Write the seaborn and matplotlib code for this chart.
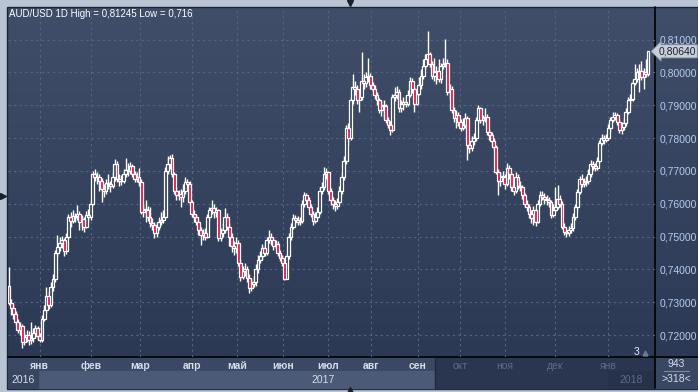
import matplotlib
matplotlib.use("Agg")
import matplotlib.pyplot as plt
import seaborn as sns
import numpy as np
import pandas as pd
from matplotlib.patches import Rectangle

# AUD/USD 1D, dic 2016 - ene 2018, precios en pips (x 1e-4)
first_open = 7350
closes = [
    7298, 7282, 7265, 7240, 7215, 7228, 7180, 7195, 7200, 7185,
    7190, 7205, 7222, 7196, 7186, 7250, 7275, 7320, 7290, 7345,
    7370, 7450, 7468, 7480, 7488, 7455, 7500, 7560, 7548, 7562,
    7558, 7570, 7545, 7552, 7530, 7565, 7560, 7600, 7690, 7682,
    7680, 7670, 7645, 7640, 7662, 7660, 7655, 7680, 7720, 7675,
    7668, 7670, 7690, 7702, 7700, 7715, 7690, 7675, 7680, 7665,
    7575, 7585, 7580, 7560, 7540, 7535, 7510, 7530, 7545, 7550,
    7560, 7700, 7720, 7740, 7690, 7640, 7625, 7630, 7620, 7640,
    7665, 7660, 7605, 7570, 7560, 7545, 7520, 7505, 7510, 7500,
    7560, 7580, 7588, 7575, 7580, 7495, 7510, 7520, 7560, 7528,
    7500, 7470, 7465, 7480, 7420, 7378, 7395, 7400, 7375, 7342,
    7355, 7360, 7400, 7428, 7440, 7465, 7450, 7490, 7500, 7488,
    7470, 7478, 7450, 7435, 7420, 7372, 7440, 7500, 7530, 7555,
    7550, 7545, 7548, 7600, 7625, 7610, 7590, 7570, 7548, 7560,
    7575, 7640, 7650, 7690, 7695, 7640, 7610, 7600, 7592, 7605,
    7640, 7680, 7730, 7830, 7800, 7915, 7955, 7950, 7915, 7925,
    7975, 7967, 7985, 7990, 7960, 7950, 7930, 7915, 7885, 7900,
    7898, 7855, 7840, 7825, 7925, 7930, 7940, 7890, 7905, 7910,
    7905, 7930, 7975, 7950, 7905, 7935, 7960, 7990, 8020, 8040,
    8055, 8025, 7990, 8000, 8005, 7980, 8020, 8025, 8030, 7940,
    7950, 7885, 7860, 7870, 7850, 7830, 7840, 7860, 7780, 7770,
    7790, 7800, 7855, 7890, 7855, 7860, 7865, 7818, 7810, 7790,
    7773, 7697, 7670, 7685, 7680, 7660, 7710, 7690, 7650, 7640,
    7680, 7655, 7650, 7625, 7600, 7590, 7570, 7555, 7580, 7545,
    7600, 7625, 7620, 7615, 7610, 7605, 7565, 7580, 7590, 7615,
    7600, 7530, 7515, 7510, 7520, 7525, 7560, 7590, 7635, 7675,
    7660, 7665, 7670, 7690, 7720, 7715, 7710, 7730, 7785, 7800,
    7795, 7800, 7830, 7855, 7865, 7870, 7850, 7825, 7835, 7845,
    7880, 7915, 7920, 7967, 7980, 8000, 8005, 7985, 8000, 7995,
    8064,
]
highs = [
    7407, 7310, 7295, 7272, 7250, 7240, 7232, 7210, 7215, 7212,
    7240, 7222, 7230, 7228, 7205, 7262, 7290, 7345, 7335, 7360,
    7385, 7460, 7505, 7500, 7502, 7495, 7512, 7570, 7575, 7580,
    7572, 7595, 7578, 7565, 7560, 7578, 7585, 7612, 7700, 7705,
    7695, 7690, 7678, 7660, 7675, 7690, 7670, 7695, 7735, 7730,
    7690, 7688, 7705, 7740, 7725, 7728, 7722, 7700, 7695, 7710,
    7675, 7600, 7610, 7592, 7590, 7555, 7545, 7540, 7560, 7575,
    7580, 7712, 7745, 7748, 7750, 7695, 7650, 7642, 7645, 7660,
    7680, 7675, 7668, 7612, 7580, 7570, 7552, 7530, 7522, 7525,
    7570, 7590, 7610, 7598, 7590, 7585, 7525, 7540, 7588, 7572,
    7540, 7510, 7485, 7500, 7488, 7430, 7410, 7418, 7410, 7385,
    7370, 7380, 7415, 7445, 7455, 7478, 7480, 7500, 7520, 7510,
    7495, 7490, 7485, 7460, 7445, 7428, 7450, 7510, 7542, 7568,
    7565, 7562, 7560, 7612, 7635, 7632, 7620, 7598, 7578, 7575,
    7590, 7652, 7665, 7712, 7708, 7700, 7648, 7620, 7612, 7618,
    7655, 7695, 7745, 7840, 7845, 7925, 7995, 7975, 7960, 7950,
    8062, 7995, 8000, 8045, 7998, 7972, 7962, 7940, 7922, 7912,
    7915, 7905, 7865, 7852, 7935, 7955, 7958, 7948, 7915, 7925,
    7930, 7945, 7985, 7982, 7958, 7950, 7985, 8010, 8040, 8055,
    8125, 8062, 8035, 8045, 8020, 8040, 8030, 8045, 8103, 8040,
    7965, 7958, 7895, 7885, 7880, 7858, 7860, 7875, 7868, 7795,
    7805, 7815, 7865, 7900, 7895, 7870, 7890, 7872, 7828, 7818,
    7800, 7780, 7705, 7695, 7700, 7690, 7725, 7718, 7698, 7660,
    7698, 7690, 7670, 7658, 7632, 7612, 7598, 7580, 7592, 7588,
    7612, 7638, 7640, 7632, 7625, 7620, 7612, 7598, 7652, 7657,
    7625, 7608, 7540, 7525, 7532, 7540, 7572, 7600, 7645, 7685,
    7690, 7678, 7685, 7705, 7732, 7730, 7725, 7742, 7795, 7812,
    7810, 7812, 7842, 7865, 7878, 7880, 7875, 7858, 7848, 7860,
    7892, 7925, 7935, 7978, 8025, 8012, 8025, 8035, 8012, 8040,
    8066,
]
lows = [
    7290, 7262, 7250, 7230, 7205, 7200, 7160, 7170, 7178, 7170,
    7172, 7180, 7195, 7185, 7178, 7180, 7242, 7268, 7280, 7285,
    7335, 7362, 7440, 7455, 7465, 7440, 7448, 7495, 7530, 7540,
    7545, 7550, 7520, 7520, 7515, 7525, 7545, 7550, 7595, 7668,
    7660, 7640, 7605, 7620, 7630, 7645, 7635, 7648, 7670, 7665,
    7655, 7658, 7662, 7680, 7685, 7690, 7680, 7665, 7665, 7655,
    7568, 7560, 7545, 7548, 7528, 7520, 7495, 7500, 7520, 7535,
    7540, 7555, 7690, 7705, 7680, 7630, 7610, 7610, 7590, 7605,
    7630, 7645, 7598, 7560, 7545, 7535, 7505, 7475, 7490, 7488,
    7495, 7550, 7570, 7555, 7560, 7485, 7485, 7500, 7512, 7520,
    7470, 7452, 7445, 7450, 7410, 7365, 7370, 7380, 7360, 7327,
    7335, 7345, 7350, 7390, 7420, 7430, 7440, 7445, 7480, 7475,
    7458, 7462, 7440, 7425, 7410, 7368, 7370, 7432, 7490, 7522,
    7538, 7535, 7535, 7540, 7590, 7598, 7580, 7560, 7535, 7540,
    7552, 7568, 7630, 7642, 7675, 7630, 7595, 7585, 7578, 7585,
    7598, 7630, 7672, 7722, 7780, 7795, 7905, 7930, 7905, 7880,
    7915, 7950, 7955, 7970, 7950, 7940, 7920, 7900, 7875, 7868,
    7860, 7845, 7830, 7808, 7818, 7912, 7920, 7878, 7880, 7885,
    7895, 7898, 7925, 7938, 7880, 7900, 7930, 7950, 7980, 8010,
    8030, 8015, 7980, 7975, 7965, 7970, 7968, 8010, 8015, 7932,
    7920, 7875, 7850, 7830, 7838, 7820, 7825, 7830, 7733, 7755,
    7760, 7778, 7792, 7845, 7845, 7840, 7850, 7810, 7795, 7780,
    7765, 7690, 7625, 7655, 7665, 7645, 7655, 7675, 7640, 7625,
    7632, 7645, 7640, 7615, 7590, 7578, 7555, 7540, 7535, 7532,
    7540, 7592, 7610, 7600, 7595, 7590, 7555, 7558, 7575, 7585,
    7590, 7522, 7505, 7498, 7502, 7510, 7518, 7550, 7582, 7628,
    7650, 7650, 7655, 7660, 7682, 7702, 7700, 7702, 7725, 7778,
    7782, 7788, 7795, 7822, 7848, 7855, 7840, 7815, 7812, 7825,
    7838, 7872, 7905, 7912, 7960, 7970, 7940, 7978, 7950, 7985,
    7990,
]

month_pos = [14, 37.2, 59.5, 83.1, 103.5, 124.4, 144.8, 164.3, 185.6,
             204.7, 225.1, 247.8, 271.9]
month_labels = ["янв", "фев", "мар", "апр", "май", "июн", "июл", "авг", "сен",
                "окт", "ноя", "дек", "янв"]
price_ticks = [0.72, 0.73, 0.74, 0.75, 0.76, 0.77, 0.78, 0.79, 0.80, 0.81]
last_price = 0.80640

df = pd.DataFrame({"close": closes, "high": highs, "low": lows}) / 1e4
df["open"] = df["close"].shift(1).fillna(first_open / 1e4)
df["x"] = np.arange(len(df))

sns.set_theme(style="dark")
plt.rcParams["font.family"] = ["Liberation Sans", "DejaVu Sans"]

W, H = 698, 392
fig = plt.figure(figsize=(W / 100, H / 100), dpi=100)
fig.patch.set_facecolor("#b9c5d5")

# fondo en coordenadas de pixel
bg = fig.add_axes([0, 0, 1, 1], zorder=0)
bg.set_xlim(0, W)
bg.set_ylim(H, 0)
bg.axis("off")

grad = np.linspace(0, 1, 256).reshape(-1, 1)
top_c = np.array([0x40, 0x4e, 0x69]) / 255
bot_c = np.array([0x2b, 0x39, 0x55]) / 255
img = top_c[None, None, :] * (1 - grad[:, :, None]) + bot_c[None, None, :] * grad[:, :, None]
bg.imshow(img, extent=(8, W, 357, 8), aspect="auto", zorder=0)

bg.add_patch(Rectangle((7, 7), W - 7, 382, fill=False, ec="#1c2436", lw=1, zorder=1))
# franja inferior
bg.add_patch(Rectangle((8, 357), 427, 14, color="#3b4864", zorder=1))
bg.add_patch(Rectangle((38, 371), 397, 17, color="#4b5a77", zorder=1))
bg.add_patch(Rectangle((8, 371), 30, 17, color="#38455f", zorder=1))
bg.add_patch(Rectangle((435, 357), 220, 31, color="#2a3550", zorder=1))
bg.add_patch(Rectangle((608, 371), 47, 17, color="#26314a", zorder=1))
bg.add_patch(Rectangle((655, 357), W - 655, 31, color="#3a4763", zorder=1))
bg.plot([655, 655], [7, 388], color="black", lw=1.2, zorder=2)
bg.plot([8, W], [357, 357], color="black", lw=1.2, zorder=2)
bg.plot([435, 435], [357, 388], color="#1e2738", lw=0.8, zorder=2)

bg.text(23, 380, "2016", color="#d5dde9", fontsize=7.5, ha="center", va="center", zorder=3)
bg.text(323, 380, "2017", color="#d5dde9", fontsize=7.5, ha="center", va="center", zorder=3)
bg.text(631, 380, "2018", color="#5d6b84", fontsize=7.5, ha="center", va="center", zorder=3)
bg.text(676, 364, "943", color="#d5dde9", fontsize=7.5, ha="center", va="center", zorder=3)
bg.plot([664, 689], [371, 371], color="#7d8aa0", lw=0.8, zorder=3)
bg.text(676, 379, ">318<", color="#d5dde9", fontsize=7.5, ha="center", va="center", zorder=3)
bg.text(637, 352, "3", color="#e8edf4", fontsize=7.5, ha="center", va="center", zorder=3)
bg.plot([645], [353], marker="^", ms=3.5, color="#6d7a90", zorder=3)
bg.plot([350], [2.5], marker="v", ms=5, color="#1a1f2a", zorder=3, clip_on=False)
bg.plot([350], [389.5], marker="^", ms=5, color="#1a1f2a", zorder=3, clip_on=False)
bg.plot([3], [196], marker=">", ms=5, color="#1a1f2a", zorder=3, clip_on=False)

# grafico de velas
ax = fig.add_axes([8 / W, 1 - 357 / H, 647 / W, 349 / H], zorder=1)
ax.patch.set_alpha(0)
for s in ax.spines.values():
    s.set_visible(False)

ax.set_xlim(-0.45, 293.2)
ax.set_ylim(0.7133, 0.8196)

for p in price_ticks:
    ax.axhline(p, color="#56657f", lw=0.8, ls=(0, (2, 3)), zorder=1)
for m in month_pos:
    ax.axvline(m, color="#56657f", lw=0.8, ls=(0, (2, 3)), zorder=1)

up = df[df["close"] >= df["open"]]
dn = df[df["close"] < df["open"]]
min_h = 0.0002
ax.vlines(df["x"], df["low"], df["high"], color="white", lw=1.0, zorder=3)
ax.bar(up["x"], np.maximum(up["close"] - up["open"], min_h), bottom=up["open"],
       width=1.3, color="#34425e", edgecolor="white", lw=0.9, zorder=4)
ax.bar(dn["x"], np.maximum(dn["open"] - dn["close"], min_h), bottom=dn["close"],
       width=1.3, color="#e8103c", edgecolor="white", lw=0.9, zorder=4)

ax.yaxis.tick_right()
ax.set_yticks(price_ticks)
ax.set_yticklabels([f"{p:.5f}".replace(".", ",") for p in price_ticks])
ax.tick_params(axis="y", length=0, pad=3, labelsize=7.5, labelcolor="#b4ccee")

ax.set_xticks(month_pos)
ax.set_xticklabels(month_labels)
ax.tick_params(axis="x", length=0, pad=3, labelsize=7.5)
for i, lab in enumerate(ax.get_xticklabels()):
    lab.set_color("#d5dde9" if month_pos[i] < 195 else "#5d6b84")
    lab.set_fontweight("bold" if month_pos[i] < 195 else "normal")

ax.text(-0.1, 0.8178, "AUD/USD 1D High = 0,81245 Low = 0,716", color="white",
        fontsize=7, va="center", ha="left", zorder=5)

ax.annotate(f"{last_price:.5f}".replace(".", ","), xy=(1.005, last_price),
            xycoords=("axes fraction", "data"), fontsize=7.5, color="#1a2233",
            va="center", ha="left", annotation_clip=False,
            bbox=dict(boxstyle="larrow,pad=0.15", fc="#c9cfd8", ec="#8a96aa", lw=0.6),
            zorder=6)

fig.savefig("out.png", dpi=100, facecolor=fig.get_facecolor())
